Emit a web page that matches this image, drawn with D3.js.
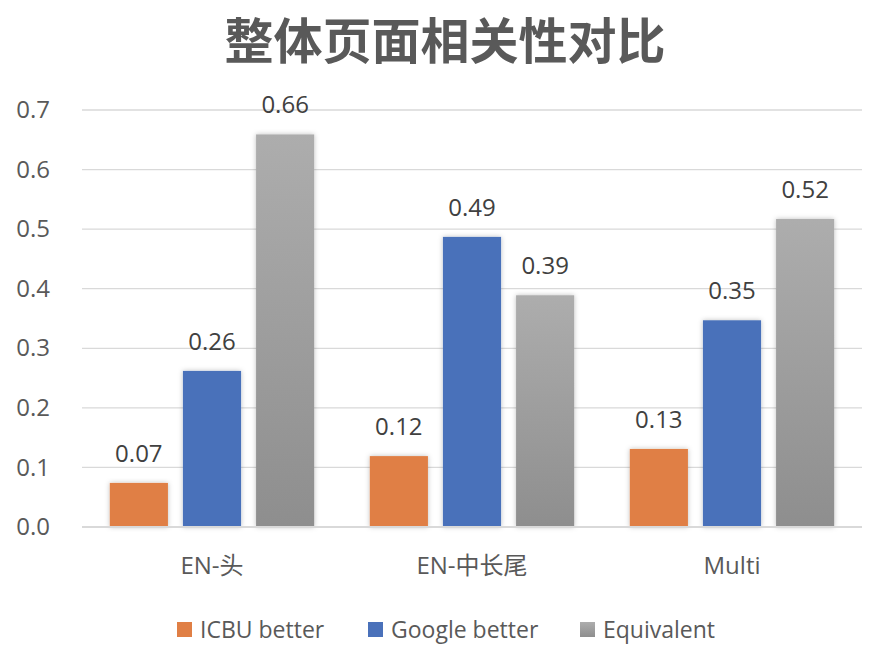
<!DOCTYPE html>
<html>
<head>
<meta charset="utf-8">
<script src="https://cdn.jsdelivr.net/npm/d3@7"></script>
<style>
  body { margin: 0; background: #fff; }
  svg text { font-family: "Open Sans", "Noto Sans CJK SC", sans-serif; fill: #595959; }
</style>
</head>
<body>
<div id="chart"></div>
<script>
const categories = ['EN-头', 'EN-中长尾', 'Multi']
const seriesNames = ['ICBU better', 'Google better', 'Equivalent']
const icbuBetter = [0.074, 0.119, 0.131]
const googleBetter = [0.262, 0.487, 0.347]
const equivalent = [0.659, 0.389, 0.517]
const yTicks = [0, 0.1, 0.2, 0.3, 0.4, 0.5, 0.6, 0.7]

const widthD3 = 890
const heightD3 = 664
const margin = { top: 110, right: 28, bottom: 137, left: 82 }

const seriesValues = [icbuBetter, googleBetter, equivalent]

const svg = d3.select('#chart').append('svg')
    .attr('width', widthD3)
    .attr('height', heightD3)

const defs = svg.append('defs')
const grad = defs.append('linearGradient')
    .attr('id', 'grayGrad')
    .attr('x1', 0).attr('y1', 0).attr('x2', 0).attr('y2', 1)
grad.append('stop').attr('offset', '0%').attr('stop-color', '#adadad')
grad.append('stop').attr('offset', '100%').attr('stop-color', '#8e8e8e')

const shadow = defs.append('filter').attr('id', 'shadow')
    .attr('x', '-20%').attr('y', '-10%').attr('width', '140%').attr('height', '120%')
shadow.append('feDropShadow')
    .attr('dx', 0).attr('dy', 0).attr('stdDeviation', 2.5)
    .attr('flood-color', '#000').attr('flood-opacity', 0.25)

const fills = ['#e07f45', '#4a71ba', 'url(#grayGrad)']

const xScale = d3.scaleBand()
    .domain(categories)
    .range([margin.left, widthD3 - margin.right])

const xInner = d3.scaleBand()
    .domain(seriesNames)
    .range([0, xScale.bandwidth()])
    .paddingInner(0.205)
    .paddingOuter(0.38)

const yScale = d3.scaleLinear()
    .domain([0, 0.7])
    .range([heightD3 - margin.bottom, margin.top])

// title
svg.append('text')
    .text('整体页面相关性对比')
    .attr('x', widthD3 / 2)
    .attr('y', 59)
    .attr('text-anchor', 'middle')
    .style('font-size', '49px')
    .style('font-weight', 'bold')
    .style('font-family', '"Noto Sans CJK SC", sans-serif')

// gridlines
svg.append('g')
    .selectAll('line')
    .data(yTicks.slice(1))
    .enter()
    .append('line')
    .attr('x1', margin.left)
    .attr('x2', widthD3 - margin.right)
    .attr('y1', d => yScale(d))
    .attr('y2', d => yScale(d))
    .attr('stroke', '#d9d9d9')
    .attr('stroke-width', 1.3)

// y axis labels
const yAxis = d3.axisLeft(yScale)
    .tickValues(yTicks)
    .tickFormat(d3.format('.1f'))
    .tickSize(0)
    .tickPadding(0)

svg.append('g')
    .attr('id', 'y-axis')
    .attr('transform', `translate(50, 0)`)
    .call(yAxis)
    .call(g => g.select('.domain').remove())
    .selectAll('text')
    .style('font-size', '24px')
    .style('font-family', '"Open Sans", sans-serif')
    .attr('fill', '#595959')

// bars
const groups = svg.append('g')
    .selectAll('g')
    .data(categories)
    .enter()
    .append('g')
    .attr('transform', d => `translate(${xScale(d)}, 0)`)

groups.each(function (cat, ci) {
    const g = d3.select(this)
    seriesNames.forEach((s, si) => {
        const v = seriesValues[si][ci]
        g.append('rect')
            .attr('x', xInner(s))
            .attr('y', yScale(v))
            .attr('width', xInner.bandwidth())
            .attr('height', yScale(0) - yScale(v))
            .attr('fill', fills[si])
            .attr('filter', 'url(#shadow)')
        g.append('text')
            .text(d3.format('.2f')(v))
            .attr('x', xInner(s) + xInner.bandwidth() / 2)
            .attr('y', yScale(v) - 21)
            .attr('text-anchor', 'middle')
            .style('font-size', '24px')
            .style('fill', '#404040')
    })
})

// baseline
svg.append('line')
    .attr('x1', margin.left)
    .attr('x2', widthD3 - margin.right)
    .attr('y1', yScale(0))
    .attr('y2', yScale(0))
    .attr('stroke', '#d9d9d9')
    .attr('stroke-width', 2)

// x axis labels
const xAxis = d3.axisBottom(xScale).tickSize(0).tickPadding(0)
svg.append('g')
    .attr('id', 'x-axis')
    .attr('transform', `translate(0, 557)`)
    .call(xAxis)
    .call(g => g.select('.domain').remove())
    .selectAll('text')
    .style('font-size', '24px')
    .style('font-family', '"Open Sans", "Noto Sans CJK SC", sans-serif')
    .attr('fill', '#595959')

// legend
const legendX = [177, 368, 580]
const legend = svg.append('g').attr('id', 'legend')
seriesNames.forEach((s, i) => {
    legend.append('rect')
        .attr('x', legendX[i])
        .attr('y', 622)
        .attr('width', 15)
        .attr('height', 15)
        .attr('fill', fills[i])
    legend.append('text')
        .text(s)
        .attr('x', legendX[i] + 23)
        .attr('y', 638)
        .style('font-size', '23px')
})
</script>
</body>
</html>
